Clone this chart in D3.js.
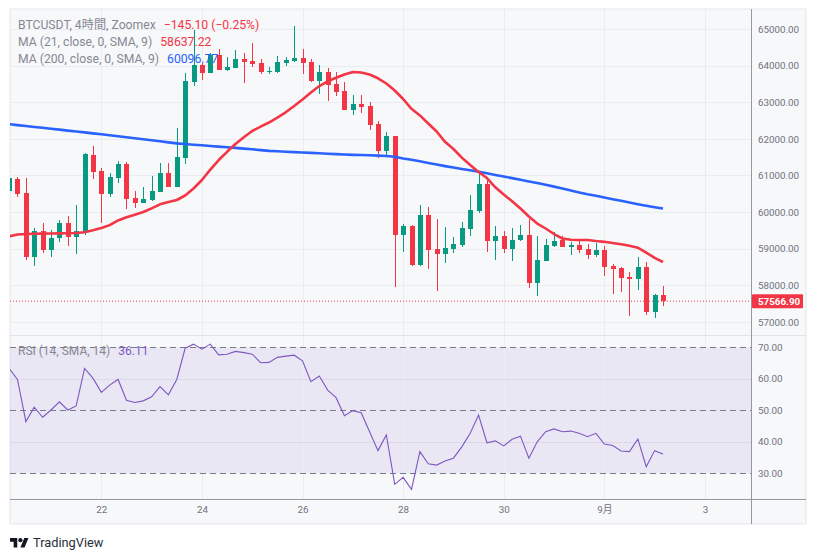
<!DOCTYPE html>
<html><head><meta charset="utf-8">
<script src="https://cdn.jsdelivr.net/npm/d3@7"></script>
<style>
body{margin:0;background:#fff;}
svg{display:block;}
text{font-family:Roboto,"Noto Sans CJK JP",sans-serif;}
</style></head><body>
<svg id="c" width="817" height="560"></svg>
<script>
// ---------------- DATA ----------------
const startTime = "2024-08-20T04:00:00Z";   // first 4h bar
const barHours = 4;
const open  = [60584,60904,60521,58782,59483,58965,59284,59710,59328,59456,61559,61122,60494,60939,61313,60385,60256,60330,60557,61067,60693,61485,63561,64017,63806,64290,63880,63943,64181,64126,64080,63834,63817,64063,64126,64208,64099,63588,63817,63490,63307,62796,62952,62897,62406,61676,62078,59382,59628,58555,59920,58992,58863,59000,59101,59546,60030,60767,59218,59347,59000,59238,59374,58071,58672,59074,59238,59055,59093,58992,58828,58965,58527,58473,58227,58172,58492,57271,57735];
const high  = [60950,60966,60939,59557,59702,59511,59784,59893,60193,61622,61805,61212,61067,61395,61376,60576,60693,60985,61332,61332,62296,63807,64973,64063,64336,64446,64243,64426,64336,64626,64189,63970,64271,64243,65082,64446,64172,64017,63927,63834,63553,63198,63198,63015,62487,62187,62085,59667,59655,60193,60139,59811,59593,59320,59737,60475,61130,60895,59620,59483,59557,59647,59803,59347,59265,59456,59347,59190,59210,59128,59147,59065,58574,58500,58356,58773,58628,57763,57981];
const low   = [60560,60420,58691,58528,58891,58782,59191,59082,58847,59374,60904,59710,60420,60802,60093,60120,60250,60316,60549,60680,60690,61313,63452,63607,63800,63870,63860,63930,63534,63970,63771,63771,63800,63997,64110,63771,63544,63225,63042,63170,62780,62660,62714,62234,61469,61532,57962,58918,58528,58528,58454,57853,58618,58874,59054,59347,59983,58918,58700,58891,58672,59220,57935,57708,58660,59054,59045,58828,58891,58727,58782,58254,57771,57826,57170,57872,57181,57116,57443];
const close = [60923,60502,58773,59483,58965,59284,59710,59320,59483,61578,61103,60502,60958,61313,60357,60256,60357,60576,61067,60693,61504,63580,64017,63806,64290,63880,63962,64181,64099,64052,63834,63860,64099,64153,64208,64080,63580,63817,63471,63288,62788,62952,62878,62386,61676,62078,59382,59620,58555,59920,58973,58863,59019,59128,59565,60057,60767,59218,59347,59000,59238,59374,58071,58691,59101,59210,59055,59093,58965,58828,58965,58509,58454,58208,58172,58492,57271,57735,57566.9];
const ma21  = [59341,59388,59401,59407,59413,59415,59418,59423,59429,59451,59505,59565,59644,59773,59860,59929,60002,60103,60213,60275,60330,60453,60644,60876,61160,61422,61646,61859,62045,62214,62332,62446,62580,62725,62897,63075,63268,63443,63572,63667,63757,63826,63812,63757,63654,63512,63320,63088,62821,62640,62419,62201,61919,61723,61488,61286,61095,60931,60677,60480,60297,60098,59879,59688,59552,59401,59279,59243,59238,59238,59210,59188,59156,59123,59079,59027,58896,58751,58637.22];
const ma200 = [62400,62376,62351,62326,62302,62277,62253,62225,62201,62176,62149,62124,62097,62070,62042,62018,61990,61963,61933,61903,61876,61859,61840,61824,61805,61788,61772,61753,61734,61715,61693,61671,61660,61649,61638,61627,61616,61605,61594,61584,61573,61564,61559,61551,61543,61534,61510,61466,61428,61387,61343,61299,61256,61217,61179,61141,61100,61059,61015,60972,60928,60882,60838,60792,60745,60696,60642,60590,60538,60488,60445,60398,60353,60308,60262,60216,60175,60134,60096.77];
const rsi   = [63.3,59.8,46.4,51.0,47.8,50.1,52.7,50.1,51.4,63.3,60.2,55.7,58.0,59.8,53.2,52.5,53.0,54.3,57.5,54.9,59.8,69.7,71.0,69.4,71.0,67.6,67.8,68.7,68.3,67.8,65.1,65.2,66.8,67.2,67.5,65.7,59.1,60.9,56.4,54.0,48.3,49.9,49.2,43.2,37.2,42.2,26.5,28.7,24.9,36.9,33.0,32.6,33.9,34.8,38.4,42.7,48.5,39.7,40.3,38.7,40.8,41.8,34.8,40.0,43.2,44.1,43.2,43.4,42.7,41.6,42.7,39.3,38.8,37.1,36.9,40.9,32.1,37.2,36.11];
const priceTicks = [57000,58000,59000,60000,61000,62000,63000,64000,65000];
const rsiTicks = [30,40,50,60,70];
const rsiLevels = [70,50,30];
const dayTicks = ["2024-08-22","2024-08-24","2024-08-26","2024-08-28","2024-08-30","2024-09-01","2024-09-03"];
const titleText = "BTCUSDT, 4時間, Zoomex";
const changeText = "−145.10 (−0.25%)";
const ma21Label = "MA (21, close, 0, SMA, 9)";
const ma200Label = "MA (200, close, 0, SMA, 9)";
const rsiLabel = "RSI (14, SMA, 14)";
const brand = "TradingView";

// ---------------- LAYOUT ----------------
const L = {left:10, right:806, top:9, bottom:524, axisX:751, priceBottom:335, rsiBottom:499};
const C = {up:"#089981", down:"#F23645", ma21:"#F23645", ma200:"#2962FF", rsi:"#7E57C2",
  grid:"#e9ecf1", bg:"#f7f8fa", text:"#6f727d", legend:"#858893", axisLine:"#9598a1"};

const svg = d3.select("#c");
const t0 = new Date(startTime);
const times = close.map((_, i) => d3.utcHour.offset(t0, barHours * i));
const x = d3.scaleUtc().domain([times[0], times[times.length-1]]).range([9.1, 663]);
const y = d3.scaleLinear().domain([57000, 65000]).range([321.96, 29]);
const yr = d3.scaleLinear().domain([30, 70]).range([473.3, 347.3]);
const dayDates = dayTicks.map(d => new Date(d + "T00:00:00Z"));

// background
svg.append("rect").attr("x", L.left).attr("y", L.top).attr("width", L.right-L.left).attr("height", L.bottom-L.top)
  .attr("fill", C.bg).attr("stroke", "#e3e6ec").attr("stroke-width", 1);

const defs = svg.append("defs");
defs.append("clipPath").attr("id","cp").append("rect").attr("x",L.left).attr("y",L.top).attr("width",L.axisX-L.left).attr("height",L.priceBottom-L.top);
defs.append("clipPath").attr("id","cr").append("rect").attr("x",L.left).attr("y",L.priceBottom).attr("width",L.axisX-L.left).attr("height",L.rsiBottom-L.priceBottom);

// RSI band
svg.append("rect").attr("x", L.left).attr("width", L.axisX-L.left)
  .attr("y", yr(70)).attr("height", yr(30)-yr(70)).attr("fill", "rgba(126,87,194,0.1)");

// grid
const grid = svg.append("g").attr("stroke", C.grid).attr("shape-rendering","crispEdges");
grid.selectAll(".vg").data(dayDates).join("line")
  .attr("x1", d => Math.round(x(d))+0.5).attr("x2", d => Math.round(x(d))+0.5)
  .attr("y1", L.top).attr("y2", L.rsiBottom);
grid.selectAll(".hg").data(priceTicks).join("line")
  .attr("x1", L.left).attr("x2", L.axisX).attr("y1", d => Math.round(y(d))+0.5).attr("y2", d => Math.round(y(d))+0.5);
grid.selectAll(".rg").data(rsiTicks.filter(v => !rsiLevels.includes(v))).join("line")
  .attr("x1", L.left).attr("x2", L.axisX).attr("y1", d => Math.round(yr(d))+0.5).attr("y2", d => Math.round(yr(d))+0.5)
  .attr("stroke","#dcd8ea");

// panel separator
svg.append("line").attr("x1",L.left).attr("x2",L.right).attr("y1",L.priceBottom+0.5).attr("y2",L.priceBottom+0.5).attr("stroke","#e0e3eb");

// price pane
const pp = svg.append("g").attr("clip-path","url(#cp)");
// last price dotted line
pp.append("line").attr("x1",L.left).attr("x2",L.axisX).attr("y1",y(close[close.length-1])).attr("y2",y(close[close.length-1]))
  .attr("stroke",C.down).attr("stroke-width",1).attr("stroke-dasharray","1,2");

const candles = pp.append("g").attr("shape-rendering","crispEdges");
const idx = d3.range(close.length);
candles.selectAll(".w").data(idx).join("line")
  .attr("x1", i => Math.round(x(times[i]))+0.5).attr("x2", i => Math.round(x(times[i]))+0.5)
  .attr("y1", i => y(high[i])).attr("y2", i => y(low[i]))
  .attr("stroke", i => close[i] >= open[i] ? C.up : C.down);
candles.selectAll(".b").data(idx).join("rect")
  .attr("x", i => Math.round(x(times[i]))-2).attr("width", 5)
  .attr("y", i => y(Math.max(open[i], close[i])))
  .attr("height", i => Math.max(1, Math.abs(y(open[i]) - y(close[i]))))
  .attr("fill", i => close[i] >= open[i] ? C.up : C.down);

const line = d3.line().x((d,i) => x(times[i])).y(d => y(d)).curve(d3.curveLinear);
pp.append("path").datum(ma200).attr("d", line).attr("fill","none").attr("stroke",C.ma200).attr("stroke-width",2.6).attr("stroke-linejoin","round");
pp.append("path").datum(ma21).attr("d", line).attr("fill","none").attr("stroke",C.ma21).attr("stroke-width",2.6).attr("stroke-linejoin","round");

// RSI pane
const rp = svg.append("g").attr("clip-path","url(#cr)");
rp.selectAll(".lv").data(rsiLevels).join("line")
  .attr("x1",L.left).attr("x2",L.axisX).attr("y1",d=>Math.round(yr(d))+0.5).attr("y2",d=>Math.round(yr(d))+0.5)
  .attr("stroke","#787b86").attr("stroke-dasharray","6,4");
rp.append("path").datum(rsi).attr("d", d3.line().x((d,i)=>x(times[i])).y(d=>yr(d)))
  .attr("fill","none").attr("stroke",C.rsi).attr("stroke-width",1.1);

// axis lines
svg.append("line").attr("x1",L.axisX+0.5).attr("x2",L.axisX+0.5).attr("y1",L.top).attr("y2",L.bottom).attr("stroke",C.axisLine);
svg.append("line").attr("x1",L.left).attr("x2",L.right).attr("y1",L.rsiBottom+0.5).attr("y2",L.rsiBottom+0.5).attr("stroke",C.axisLine);

// axes
const fmt = d3.format(".2f");
const pa = svg.append("g").attr("transform",`translate(${L.axisX},0)`)
  .call(d3.axisRight(y).tickValues(priceTicks).tickFormat(fmt).tickSize(0).tickPadding(7));
const ra = svg.append("g").attr("transform",`translate(${L.axisX},0)`)
  .call(d3.axisRight(yr).tickValues(rsiTicks).tickFormat(fmt).tickSize(0).tickPadding(7));
const xa = svg.append("g").attr("transform",`translate(0,${L.rsiBottom})`)
  .call(d3.axisBottom(x).tickValues(dayDates)
    .tickFormat(d => d.getUTCDate() === 1 ? (d.getUTCMonth()+1) + "月" : String(d.getUTCDate()))
    .tickSize(0).tickPadding(7));
[pa, ra, xa].forEach(g => {
  g.select(".domain").remove();
  g.selectAll("text").attr("fill", C.text).attr("font-size", "9.8px")
    .attr("font-family", 'Roboto,"Noto Sans CJK JP",sans-serif');
});

// last price label
const lp = close[close.length-1];
svg.append("rect").attr("x", L.axisX+1).attr("y", y(lp)-7).attr("width", 51).attr("height", 14).attr("fill", C.down).attr("rx",1);
svg.append("text").attr("x", L.axisX+7).attr("y", y(lp)).attr("dy","0.35em").attr("fill","#fff")
  .attr("font-size","9.8px").attr("font-weight","bold").text(fmt(lp));

// legends
function legendRow(yy, label, value, color, size) {
  const t = svg.append("text").attr("x", 18).attr("y", yy).attr("dy","0.35em").attr("font-size", size).attr("fill", C.legend).text(label);
  const w = t.node().getComputedTextLength();
  svg.append("text").attr("x", 18 + w + 8).attr("y", yy).attr("dy","0.35em").attr("font-size", size).attr("fill", color).text(value);
}
legendRow(24.5, titleText, changeText, C.down, "12.2px");
legendRow(41.5, ma21Label, fmt(ma21[ma21.length-1]), C.ma21, "12.2px");
legendRow(59, ma200Label, fmt(ma200[ma200.length-1]), C.ma200, "12.2px");
legendRow(350.5, rsiLabel, fmt(rsi[rsi.length-1]), C.rsi, "12px");

// brand
const logo = svg.append("g").attr("transform","translate(10,536) scale(0.52)").attr("fill","#131722");
logo.append("path").attr("d","M14 22H7V11H0V4h14v18zM28 22h-8l7.5-18h8L28 22z");
logo.append("circle").attr("cx",20).attr("cy",8).attr("r",4);
svg.append("text").attr("x",33).attr("y",543).attr("dy","0.35em").attr("font-size","12.8px").attr("fill","#2a2e39").text(brand);
</script>
</body></html>
